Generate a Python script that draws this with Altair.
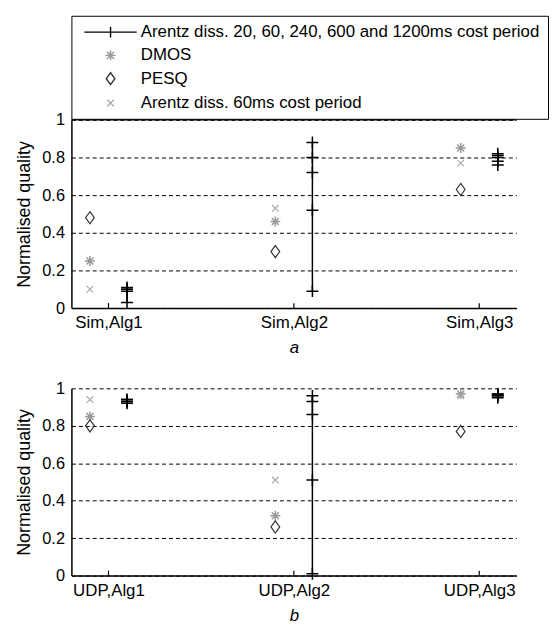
import altair as alt
import pandas as pd

# ---- data ----
categories_a = ["Sim,Alg1", "Sim,Alg2", "Sim,Alg3"]
categories_b = ["UDP,Alg1", "UDP,Alg2", "UDP,Alg3"]
series_names = [
    "Arentz diss. 20, 60, 240, 600 and 1200ms cost period",
    "DMOS",
    "PESQ",
    "Arentz diss. 60ms cost period",
]
cost_periods = ["20ms", "60ms", "240ms", "600ms", "1200ms"]

dmos_a = [0.25, 0.46, 0.85]
pesq_a = [0.48, 0.30, 0.63]
arentz60_a = [0.10, 0.53, 0.77]
arentz_multi_a = [
    [0.03, 0.09, 0.10, 0.10, 0.11],
    [0.09, 0.52, 0.72, 0.80, 0.88],
    [0.76, 0.78, 0.80, 0.81, 0.82],
]

dmos_b = [0.85, 0.32, 0.97]
pesq_b = [0.80, 0.26, 0.77]
arentz60_b = [0.94, 0.51, 0.96]
arentz_multi_b = [
    [0.92, 0.93, 0.93, 0.94, 0.94],
    [0.01, 0.51, 0.86, 0.93, 0.96],
    [0.95, 0.96, 0.96, 0.97, 0.97],
]

y_ticks = [0, 0.2, 0.4, 0.6, 0.8, 1]

# ---- styling ----
FONT = "Liberation Sans"
FS = 16.5
W = 449
OFF = 0.1
STAR = "M-1,0L1,0M0,-1L0,1M-0.7,-0.7L0.7,0.7M-0.7,0.7L0.7,-0.7"
DIAMOND = "M0,-1L0.72,0L0,1L-0.72,0Z"
XMARK = "M-1,-1L1,1M-1,1L1,-1"
PLUS = "M-1,0L1,0M0,-1L0,1"

# legend symbols drawn at symbolSize 144 (unit = 6px)
LEG_LINE = "M-4.4,0L4.4,0M0,-0.9L0,0.9"
LEG_STAR = "M-0.85,0L0.85,0M0,-0.85L0,0.85M-0.6,-0.6L0.6,0.6M-0.6,0.6L0.6,-0.6"
LEG_DIAMOND = "M0,-1L0.72,0L0,1L-0.72,0Z"
LEG_X = "M-0.55,-0.55L0.55,0.55M-0.55,0.55L0.55,-0.55"
series_colors = ["black", "#999999", "#333333", "#aaaaaa"]


def panel(cats, dmos, pesq, a60, amulti, caption, height, with_legend):
    pos = list(range(1, len(cats) + 1))
    pts = pd.DataFrame({"x": [p - OFF for p in pos], "dmos": dmos, "pesq": pesq, "a60": a60})
    rows = []
    for p, vals in zip(pos, amulti):
        for cp, v in zip(cost_periods, vals):
            rows.append({"x": p + OFF, "y": v, "cat": cats[p - 1], "cp": cp})
    multi = pd.DataFrame(rows)
    ticks = pd.DataFrame({"x": pos})

    label_expr = " : ".join(
        [f"datum.value == {p} ? '{c}'" for p, c in zip(pos, cats)]
    ) + " : ''"

    xscale = alt.Scale(domain=[0.8, 3.2], nice=False, zero=False)
    yscale = alt.Scale(domain=[0, 1], nice=False)

    xaxis = alt.Axis(
        values=pos, tickCount=len(pos), labelExpr=label_expr, title=caption,
        titleFontStyle="italic", titleFontWeight="normal", titleFont=FONT, titleFontSize=17,
        titleColor="black", titlePadding=9, tickSize=0, grid=False, domainColor="black",
        domainWidth=1.5, labelFont=FONT, labelFontSize=17, labelColor="black", labelPadding=7,
    )
    yaxis = alt.Axis(
        values=y_ticks, tickCount=len(y_ticks), format="~g", title="Normalised quality",
        titleFont=FONT, titleFontSize=18, titleFontWeight="normal", titleColor="black",
        titlePadding=8, grid=True, gridDash=[4, 3], gridColor="black", gridWidth=1,
        gridOpacity=1, tickSize=0, domainColor="black", domainWidth=1.5, labelFont=FONT,
        labelFontSize=FS, labelColor="black", labelPadding=7, labelOverlap=False,
    )

    base_x = alt.X("x:Q", scale=xscale, axis=xaxis)

    dm = alt.Chart(pts).mark_point(shape=STAR, size=100, color="#999999", strokeWidth=1.5,
                                   filled=False, opacity=1).encode(
        x=base_x, y=alt.Y("dmos:Q", scale=yscale, axis=yaxis))
    pe = alt.Chart(pts).mark_point(shape=DIAMOND, size=150, color="#333333", strokeWidth=1.2,
                                   filled=False, opacity=1).encode(
        x=alt.X("x:Q"), y=alt.Y("pesq:Q"))
    ax = alt.Chart(pts).mark_point(shape=XMARK, size=45, color="#aaaaaa", strokeWidth=1.2,
                                   filled=False, opacity=1).encode(
        x=alt.X("x:Q"), y=alt.Y("a60:Q"))
    ln = alt.Chart(multi).mark_line(color="black", strokeWidth=1.5).encode(
        x=alt.X("x:Q"), y=alt.Y("y:Q"), detail="cat:N", order="y:Q")
    pl = alt.Chart(multi).mark_point(shape=PLUS, size=144, color="black", strokeWidth=1.5,
                                     filled=False, opacity=1).encode(
        x=alt.X("x:Q"), y=alt.Y("y:Q"))
    tk = alt.Chart(ticks).mark_rule(color="black", strokeWidth=1.2).encode(
        x=alt.X("x:Q"), y=alt.value(height), y2=alt.value(height - 5))

    layers = [dm, pe, ax, ln, pl, tk]
    if with_legend:
        top = alt.Chart(pd.DataFrame({"y": [1]})).mark_rule(color="black", strokeWidth=1.5).encode(
            y=alt.Y("y:Q"))
        leg = alt.Legend(
            title=None, orient="none", legendX=0, legendY=-105, strokeColor="black",
            fillColor="white", padding=8, symbolOffset=23, labelOffset=22, labelFont=FONT,
            labelFontSize=17, labelColor="black", labelLimit=0, rowPadding=5.5,
            symbolSize=144, symbolStrokeWidth=1.4, cornerRadius=0,
        )
        sd = pd.DataFrame({"s": series_names})
        dummy = alt.Chart(sd).mark_point(filled=False, clip=True, opacity=1).encode(
            x=alt.value(-500), y=alt.value(-500),
            shape=alt.Shape("s:N", scale=alt.Scale(domain=series_names,
                                                    range=[LEG_LINE, LEG_STAR, LEG_DIAMOND, LEG_X]),
                            legend=leg),
            color=alt.Color("s:N", scale=alt.Scale(domain=series_names, range=series_colors),
                            legend=leg),
        )
        layers = [dummy] + layers + [top]
    return alt.layer(*layers).properties(width=W, height=height)


top = panel(categories_a, dmos_a, pesq_a, arentz60_a, arentz_multi_a, "a", 190, True)
bottom = panel(categories_b, dmos_b, pesq_b, arentz60_b, arentz_multi_b, "b", 189, False)

chart = alt.vconcat(top, bottom, spacing=25).properties(
    padding={"left": 8, "top": 4, "right": 0, "bottom": 0}
).configure_view(stroke=None)

chart.save("out.html", embed_options={"renderer": "svg", "actions": False})
